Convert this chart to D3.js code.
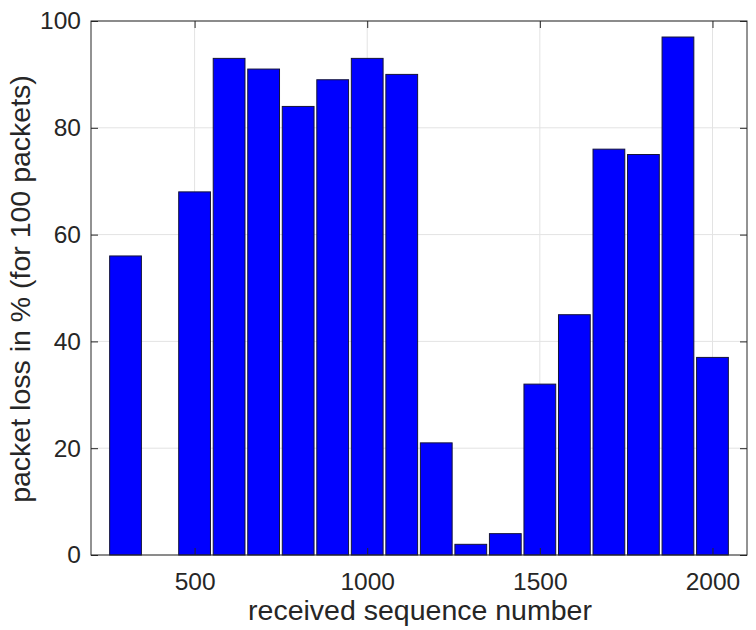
<!DOCTYPE html>
<html>
<head>
<meta charset="utf-8">
<script src="https://cdn.jsdelivr.net/npm/d3@7"></script>
<style>
  html, body { margin: 0; padding: 0; background: #fff; }
  svg { display: block; }
  text { font-family: "Liberation Sans", Arial, Helvetica, sans-serif; fill: #262626; }
</style>
</head>
<body>
<svg id="chart" width="756" height="630"></svg>
<script>
// Data
const seqNumbers = [300, 500, 600, 700, 800, 900, 1000, 1100, 1200, 1300, 1400, 1500, 1600, 1700, 1800, 1900, 2000];
const lossPercent = [56, 68, 93, 91, 84, 89, 93, 90, 21, 2, 4, 32, 45, 76, 75, 97, 37];
const xTicks = [500, 1000, 1500, 2000];
const yTicks = [0, 20, 40, 60, 80, 100];
const xLabel = "received sequence number";
const yLabel = "packet loss in % (for 100 packets)";

const svg = d3.select("#chart");
const mLeft = 91, mRight = 747, mTop = 21, mBottom = 555;
const binWidth = 100, barFrac = 0.92;

const x = d3.scaleLinear().domain([200, 2100]).range([mLeft, mRight]);
const y = d3.scaleLinear().domain([0, 100]).range([mBottom, mTop]);

// grid
const grid = svg.append("g");
grid.selectAll("line.gx").data(xTicks).join("line")
  .attr("x1", d => x(d)).attr("x2", d => x(d))
  .attr("y1", mTop).attr("y2", mBottom)
  .attr("stroke", "#e3e3e3").attr("stroke-width", 1);
grid.selectAll("line.gy").data(yTicks).join("line")
  .attr("x1", mLeft).attr("x2", mRight)
  .attr("y1", d => y(d)).attr("y2", d => y(d))
  .attr("stroke", "#e3e3e3").attr("stroke-width", 1);

// bars
const data = seqNumbers.map((s, i) => ({ s, v: lossPercent[i] }));
const bw = x(binWidth * barFrac) - x(0);
svg.append("g").selectAll("rect").data(data).join("rect")
  .attr("x", d => x(d.s) - bw / 2)
  .attr("width", bw)
  .attr("y", d => y(d.v))
  .attr("height", d => y(0) - y(d.v))
  .attr("fill", "#0000ff")
  .attr("stroke", "#14143a")
  .attr("stroke-width", 1);

// axes (ticks inward)
const tl = 7;
const axB = svg.append("g").attr("transform", `translate(0,${mBottom})`)
  .call(d3.axisBottom(x).tickValues(xTicks).tickSize(-tl).tickPadding(18).tickFormat(d3.format("d")));
const axT = svg.append("g").attr("transform", `translate(0,${mTop})`)
  .call(d3.axisTop(x).tickValues(xTicks).tickSize(-tl).tickFormat(""));
const axL = svg.append("g").attr("transform", `translate(${mLeft},0)`)
  .call(d3.axisLeft(y).tickValues(yTicks).tickSize(-tl).tickPadding(10).tickFormat(d3.format("d")));
const axR = svg.append("g").attr("transform", `translate(${mRight},0)`)
  .call(d3.axisRight(y).tickValues(yTicks).tickSize(-tl).tickFormat(""));

[axB, axT, axL, axR].forEach(a => {
  a.select(".domain").remove();
  a.selectAll(".tick line").attr("stroke", "#262626");
  a.selectAll(".tick text").attr("fill", "#262626")
    .style("font-family", '"Liberation Sans", Arial, sans-serif')
    .style("font-size", "24.5px");
});
axB.selectAll(".tick text").attr("dy", "0.71em");

// box
svg.append("rect")
  .attr("x", mLeft).attr("y", mTop)
  .attr("width", mRight - mLeft).attr("height", mBottom - mTop)
  .attr("fill", "none").attr("stroke", "#262626").attr("stroke-width", 1);

// labels
svg.append("text")
  .attr("x", 420).attr("y", 620)
  .attr("text-anchor", "middle")
  .style("font-size", "28.5px")
  .text(xLabel);
svg.append("text")
  .attr("transform", `translate(30,289) rotate(-90)`)
  .attr("text-anchor", "middle")
  .style("font-size", "28.5px")
  .text(yLabel);
</script>
</body>
</html>
